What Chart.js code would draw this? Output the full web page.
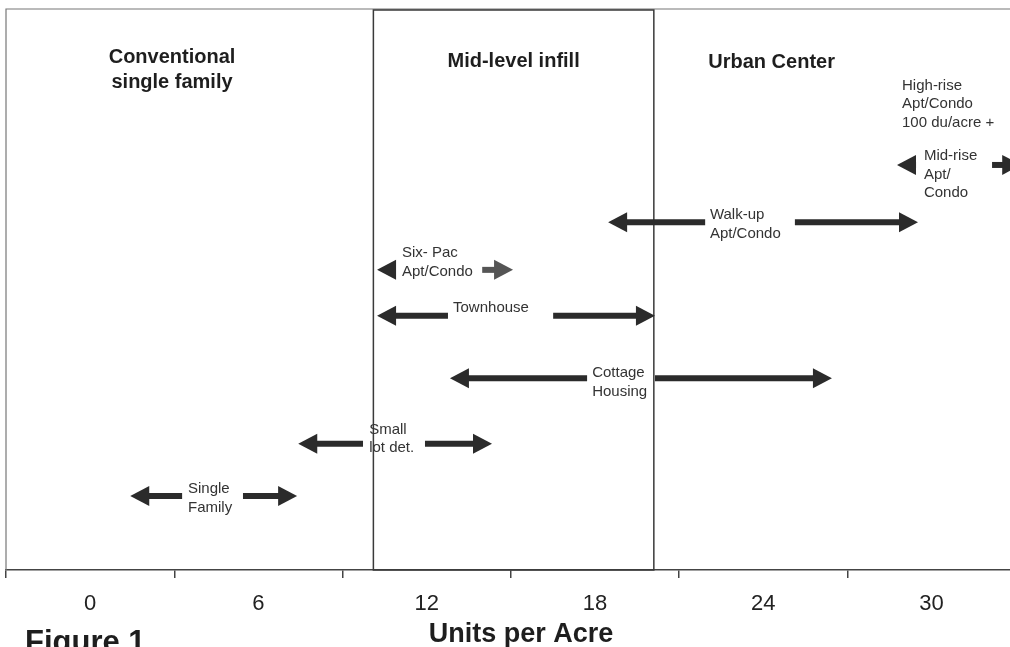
<!DOCTYPE html>
<html>
<head>
<meta charset="utf-8">
<script src="https://cdn.jsdelivr.net/npm/chart.js@4.4.0/dist/chart.umd.min.js"></script>
<style>
  html, body { margin: 0; padding: 0; background: #fff; }
  canvas { display: block; }
</style>
</head>
<body>
<canvas id="density-chart" width="1010" height="647"></canvas>
<script>
// values (x = units per acre, level = row height 0..100)
const tickValues = [0, 6, 12, 18, 24, 30];
const housingTypes = ["Single Family", "Small lot det.", "Cottage Housing", "Townhouse",
  "Six- Pac Apt/Condo", "Walk-up Apt/Condo", "Mid-rise Apt/Condo"];
const labelLines = [["Single", "Family"], ["Small", "lot det."], ["Cottage", "Housing"], ["Townhouse"],
  ["Six- Pac", "Apt/Condo"], ["Walk-up", "Apt/Condo"], ["Mid-rise", "Apt/", "Condo"]];
const leftTip    = [1.43, 7.42, 12.83, 10.23, 10.23, 18.47, 28.77];
const leftEnd    = [3.28, 9.73, 17.72, 12.76, 10.90, 21.93, 29.45];
const rightStart = [5.45, 11.94, 20.14, 16.51, 13.98, 25.13, 32.16];
const rightTip   = [7.38, 14.33, 26.45, 20.14, 15.08, 29.52, 33.20];
const rowLevel   = [13.2, 22.5, 34.2, 45.3, 53.5, 62.0, 72.2];
const labelX     = [3.49, 9.95, 17.90, 12.94, 11.12, 22.10, 29.73];
const labelLevel = [14.4, 25.0, 35.1, 46.7, 56.5, 63.3, 73.8];

const noteLines = ["High-rise", "Apt/Condo", "100 du/acre +"];
const noteX = 28.95;
const noteLevel = 86.3;

const zoneTitles = [["Conventional", "single family"], ["Mid-level infill"], ["Urban Center"]];
const zoneCenters = [2.92, 15.1, 24.3];
const zoneLevels = [91.3, 90.7, 90.4];
const infillRange = [10.1, 20.1];

const lightArrows = ["Six- Pac Apt/Condo"];

const FONT = "'Liberation Sans', Arial, sans-serif";
const HEAD_LEN = 19;
const HEAD_HALF = 10;

// build two shaft segments per arrow
const datasets = [];
housingTypes.forEach((name, i) => {
  datasets.push({
    label: name,
    data: [{ x: leftTip[i], y: rowLevel[i] }, { x: leftEnd[i], y: rowLevel[i] }],
    headIndex: 0,
    borderColor: "#2b2b2b",
  });
  datasets.push({
    label: name,
    data: [{ x: rightStart[i], y: rowLevel[i] }, { x: rightTip[i], y: rowLevel[i] }],
    headIndex: 1,
    borderColor: lightArrows.includes(name) ? "#555555" : "#2b2b2b",
  });
});

const arrowHeads = {
  id: "arrowHeads",
  afterDatasetsUpdate(chart) {
    chart.data.datasets.forEach((ds, i) => {
      const pts = chart.getDatasetMeta(i).data;
      const p = pts[ds.headIndex];
      const dir = ds.headIndex === 0 ? -1 : 1;
      ds._tip = { x: p.x, y: p.y, dir: dir };
      p.x -= dir * (HEAD_LEN - 3);
    });
  },
  afterDatasetsDraw(chart) {
    const ctx = chart.ctx;
    ctx.save();
    chart.data.datasets.forEach((ds) => {
      const t = ds._tip;
      ctx.fillStyle = ds.borderColor;
      ctx.beginPath();
      ctx.moveTo(t.x, t.y);
      ctx.lineTo(t.x - t.dir * HEAD_LEN, t.y - HEAD_HALF);
      ctx.lineTo(t.x - t.dir * HEAD_LEN, t.y + HEAD_HALF);
      ctx.closePath();
      ctx.fill();
    });
    ctx.restore();
  },
};

const frameAndText = {
  id: "frameAndText",
  beforeDatasetsDraw(chart) {
    const { ctx, chartArea: { top, bottom, left, right } } = chart;
    const x = chart.scales.x;
    ctx.save();
    // frame: top and left edges
    ctx.strokeStyle = "#777";
    ctx.lineWidth = 1.2;
    ctx.beginPath();
    ctx.moveTo(left, bottom);
    ctx.lineTo(left, top);
    ctx.lineTo(right, top);
    ctx.stroke();
    // mid-level infill box
    ctx.strokeStyle = "#3a3a3a";
    ctx.lineWidth = 1.5;
    const x0 = x.getPixelForValue(infillRange[0]);
    const x1 = x.getPixelForValue(infillRange[1]);
    ctx.strokeRect(x0, top + 1, x1 - x0, bottom - top - 1);
    ctx.restore();
  },
  afterDatasetsDraw(chart) {
    const { ctx } = chart;
    const xs = chart.scales.x, ys = chart.scales.y;
    ctx.save();
    // zone titles
    ctx.fillStyle = "#1e1e1e";
    ctx.font = "bold 20px " + FONT;
    ctx.textAlign = "center";
    ctx.textBaseline = "middle";
    zoneTitles.forEach((lines, i) => {
      const cx = xs.getPixelForValue(zoneCenters[i]);
      const cy = ys.getPixelForValue(zoneLevels[i]);
      lines.forEach((s, j) => ctx.fillText(s, cx, cy + j * 25));
    });
    // arrow labels
    ctx.fillStyle = "#333";
    ctx.font = "15px " + FONT;
    ctx.textAlign = "left";
    labelLines.forEach((lines, i) => {
      const lx = xs.getPixelForValue(labelX[i]);
      const ly = ys.getPixelForValue(labelLevel[i]);
      lines.forEach((s, j) => ctx.fillText(s, lx, ly + j * 18.5));
    });
    const nx = xs.getPixelForValue(noteX), ny = ys.getPixelForValue(noteLevel);
    noteLines.forEach((s, j) => ctx.fillText(s, nx, ny + j * 18.5));
    // axis title and caption
    ctx.fillStyle = "#1e1e1e";
    ctx.font = "bold 27px " + FONT;
    ctx.textAlign = "center";
    ctx.fillText("Units per Acre", 521, 635);
    ctx.font = "bold 31px " + FONT;
    ctx.textAlign = "left";
    ctx.textBaseline = "top";
    ctx.fillText("Figure 1", 25, 628);
    ctx.restore();
  },
};

const densityChart = new Chart(document.getElementById("density-chart"), {
  type: "line",
  data: { datasets: datasets },
  options: {
    responsive: false,
    animation: false,
    layout: { padding: { left: 6, top: 9, right: 0, bottom: 17 } },
    elements: {
      line: { borderWidth: 6, tension: 0, borderCapStyle: "butt", fill: false },
      point: { radius: 0, hoverRadius: 0 },
    },
    plugins: { legend: { display: false }, tooltip: { enabled: false } },
    scales: {
      x: {
        type: "linear",
        min: -3,
        max: 32.8,
        afterBuildTicks(scale) {
          scale.ticks = tickValues.map((v) => ({ value: v }));
        },
        grid: { offset: true, drawOnChartArea: false, drawTicks: true, tickLength: 8, color: "#444", lineWidth: 1.5 },
        border: { display: true, color: "#444", width: 1.5 },
        ticks: { padding: 15, color: "#222", font: { family: FONT, size: 22, lineHeight: 1.0 } },
      },
      y: { type: "linear", min: 0, max: 100, display: false },
    },
  },
  plugins: [frameAndText, arrowHeads],
});
</script>
</body>
</html>
